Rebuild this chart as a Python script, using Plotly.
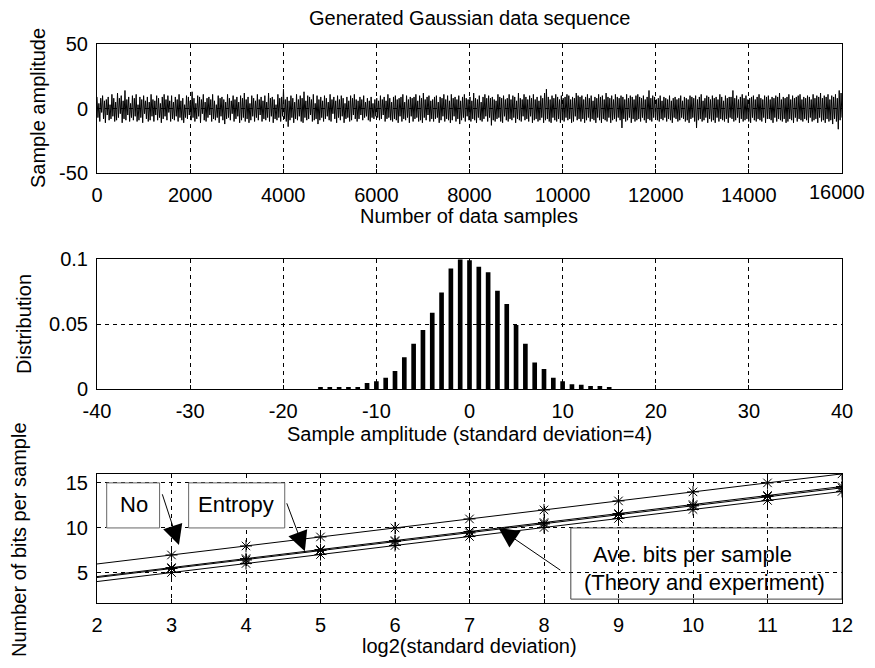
import plotly.graph_objects as go

# ---------------- data ----------------
sample_amplitude = [
    9, -7, 4, -10, 8, -3, 10, -8, 6, -11, 7, -5, 9, -9, 3, -8, 11, -6, 8, -10,
    5, -9, 12, -7, 8, -4, 10, -11, 6, -8, 14, -9, 7, -5, 9, -10, 4, -7, 10, -9,
    8, -6, 11, -10, 3, -9, 9, -7, 7, -11, 10, -4, 6, -8, 9, -10, 5, -9, 11, -6,
    7, -10, 6, -5, 10, -9, 8, -7, 4, -11, 9, -8, 11, -6, 7, -9, 10, -3, 6, -10,
    10, -8, 5, -9, 9, -6, 7, -10, 11, -7, 6, -9, 8, -11, 3, -7, 10, -8, 9, -5,
    6, -9, 13, -7, 8, -10, 4, -8, 10, -6, 9, -11, 7, -4, 11, -9, 5, -10, 8, -7,
    9, -5, 7, -10, 11, -8, 6, -9, 3, -7, 10, -11, 8, -6, 9, -9, 7, -12, 5, -8,
    11, -7, 8, -9, 6, -4, 10, -10, 7, -8, 9, -6, 5, -11, 10, -9, 8, -7, 12, -10,
    7, -8, 9, -11, 4, -9, 10, -6, 8, -10, 6, -7, 11, -9, 7, -5, 9, -10, 6, -8,
    10, -9, 5, -7, 12, -10, 8, -6, 9, -11, 7, -8, 3, -9, 11, -7, 8, -10, 9, -6,
    15, -8, 7, -10, 9, -14, 6, -9, 10, -7, 8, -11, 5, -8, 11, -9, 7, -6, 10, -10,
    8, -11, 13, -7, 6, -9, 10, -8, 9, -5, 7, -10, 11, -9, 4, -8, 10, -12, 7, -9,
    9, -7, 6, -10, 10, -8, 8, -6, 5, -9, 11, -10, 7, -4, 9, -8, 6, -11, 10, -7,
    7, -9, 10, -6, 8, -11, 4, -8, 9, -7, 6, -10, 10, -9, 8, -5, 11, -8, 7, -10,
    6, -8, 9, -5, 7, -9, 10, -7, 5, -6, 8, -9, 6, -10, 9, -7, 4, -8, 7, -6,
    8, -7, 6, -9, 10, -8, 7, -5, 9, -10, 6, -8, 11, -7, 8, -9, 5, -10, 9, -8,
    10, -9, 7, -11, 8, -6, 9, -10, 11, -8, 5, -9, 10, -7, 7, -11, 9, -6, 8, -10,
    9, -8, 11, -7, 6, -10, 10, -9, 8, -11, 12, -7, 7, -9, 9, -5, 10, -10, 6, -8,
    7, -10, 9, -8, 10, -7, 5, -11, 9, -9, 8, -6, 11, -10, 7, -8, 10, -9, 6, -11,
    11, -9, 8, -6, 9, -10, 7, -8, 10, -12, 6, -9, 9, -7, 11, -10, 8, -6, 7, -9,
    9, -10, 6, -8, 12, -9, 8, -11, 7, -7, 10, -9, 5, -10, 9, -8, 11, -6, 8, -10,
    10, -7, 8, -13, 9, -9, 7, -10, 6, -8, 11, -7, 9, -10, 8, -11, 10, -6, 7, -9,
    8, -10, 11, -8, 7, -9, 10, -7, 9, -11, 6, -8, 12, -9, 8, -10, 7, -6, 11, -9,
    9, -8, 7, -10, 10, -6, 8, -11, 11, -9, 7, -8, 9, -10, 6, -9, 10, -7, 8, -11,
    12, -9, 15, -8, 9, -10, 7, -11, 10, -7, 8, -9, 11, -10, 9, -8, 7, -11, 10, -9,
    8, -10, 9, -7, 11, -9, 10, -8, 7, -11, 9, -10, 8, -6, 12, -9, 10, -8, 9, -10,
    10, -8, 7, -11, 9, -9, 11, -7, 8, -10, 10, -8, 6, -9, 9, -11, 8, -7, 11, -9,
    9, -11, 10, -8, 7, -9, 12, -10, 9, -7, 8, -11, 10, -9, 7, -8, 11, -10, 9, -7,
    8, -9, 10, -15, 9, -8, 7, -10, 11, -9, 8, -7, 10, -11, 9, -8, 7, -10, 10, -9,
    11, -8, 9, -10, 8, -7, 10, -9, 7, -11, 9, -8, 14, -9, 8, -10, 10, -7, 9, -8,
    7, -9, 8, -10, 10, -8, 6, -9, 9, -7, 8, -10, 7, -8, 10, -9, 6, -11, 8, -7,
    9, -8, 7, -10, 8, -9, 10, -7, 6, -8, 9, -10, 8, -9, 7, -11, 10, -8, 9, -7,
    8, -10, 10, -15, 7, -9, 9, -8, 11, -10, 6, -9, 8, -7, 10, -11, 9, -8, 7, -10,
    10, -9, 8, -11, 9, -7, 7, -10, 11, -8, 9, -9, 6, -10, 10, -8, 8, -11, 9, -7,
    9, -8, 14, -10, 8, -9, 10, -7, 7, -11, 9, -8, 11, -10, 8, -9, 10, -8, 7, -10,
    8, -11, 9, -7, 10, -9, 7, -10, 9, -8, 11, -9, 8, -10, 7, -7, 10, -11, 9, -8,
    10, -8, 7, -9, 9, -11, 8, -7, 10, -10, 9, -8, 12, -9, 7, -10, 9, -8, 8, -11,
    9, -10, 11, -8, 7, -9, 10, -11, 8, -7, 9, -10, 10, -8, 11, -9, 7, -10, 9, -8,
    8, -9, 10, -11, 9, -7, 7, -10, 11, -9, 8, -8, 10, -11, 9, -7, 12, -10, 8, -9,
    10, -11, 9, -8, 11, -10, 7, -9, 10, -12, 9, -8, 11, -10, 8, -16, 14, -9, 12, -7,
]
total_samples = 16000

amplitude_bins = list(range(-16, 16))
distribution = [
    0.0015, 0.0015, 0.0015, 0.0015, 0.0015, 0.0045, 0.006, 0.0087, 0.0138, 0.0244,
    0.0349, 0.0454, 0.0587, 0.0744, 0.0928, 0.1, 0.0992, 0.0941, 0.09, 0.0756,
    0.0654, 0.0492, 0.0349, 0.0203, 0.0154, 0.0087, 0.006, 0.0036, 0.0033, 0.0022,
    0.0022, 0.0015,
]

log2_std = [2, 3, 4, 5, 6, 7, 8, 9, 10, 11, 12]
bits_no_compression = [6, 7, 8, 9, 10, 11, 12, 13, 14, 15, 16]
bits_ave_theory = [4.6, 5.6, 6.6, 7.6, 8.6, 9.6, 10.6, 11.6, 12.6, 13.6, 14.6]
bits_ave_experiment = [4.5, 5.5, 6.45, 7.5, 8.5, 9.45, 10.45, 11.5, 12.45, 13.5, 14.45]
bits_entropy = [4.05, 5.05, 6.05, 7.05, 8.05, 9.05, 10.05, 11.05, 12.05, 13.05, 14.05]

x_ticks_top = [0, 2000, 4000, 6000, 8000, 10000, 12000, 14000, 16000]
x_ticks_mid = [-40, -30, -20, -10, 0, 10, 20, 30, 40]
y_ticks_top = [-50, 0, 50]
y_ticks_mid = [0, 0.05, 0.1]
y_ticks_bot = [5, 10, 15]

# ---------------- figure ----------------
FONT = "Liberation Sans, Arial, sans-serif"
FS = 20

fig = go.Figure()

step = total_samples / (len(sample_amplitude) - 1)
x_samples = [i * step for i in range(len(sample_amplitude))]
fig.add_trace(go.Scatter(x=x_samples, y=sample_amplitude, mode="lines",
                         line=dict(color="black", width=1),
                         xaxis="x", yaxis="y", showlegend=False, hoverinfo="skip"))

fig.add_trace(go.Bar(x=amplitude_bins, y=distribution, width=0.5,
                     marker=dict(color="black", line=dict(width=0)),
                     xaxis="x2", yaxis="y2", showlegend=False))

series = [bits_no_compression, bits_ave_theory, bits_ave_experiment, bits_entropy]
for s in series:
    fig.add_trace(go.Scatter(x=log2_std, y=s, mode="lines",
                             line=dict(color="black", width=1),
                             xaxis="x3", yaxis="y3", showlegend=False))
    fig.add_trace(go.Scatter(x=log2_std[1:], y=s[1:], mode="markers",
                             marker=dict(symbol="asterisk-open", size=10, color="black",
                                         line=dict(color="black", width=1)),
                             xaxis="x3", yaxis="y3", showlegend=False))

axis_common = dict(showline=True, linecolor="black", linewidth=1, mirror=True,
                   ticks="inside", ticklen=4, tickcolor="black",
                   showgrid=True, gridcolor="black", gridwidth=1, griddash="4px,4px",
                   zeroline=False, ticklabelstandoff=4, automargin=False,
                   ticklabeloverflow="allow",
                   tickfont=dict(family=FONT, size=FS, color="black"))

def labels(vals):
    return [("%g" % v) for v in vals]

# the last top-axis label is written separately so it stays inside the window
top_labels = labels(x_ticks_top)
last_top_label = top_labels[-1]
top_labels[-1] = ""

# page body has an 8px margin: figure sits at (8, 8)
fig.update_layout(
    width=867, height=652,
    margin=dict(l=89, r=33, t=36, b=57),
    paper_bgcolor="white", plot_bgcolor="white",
    font=dict(family=FONT, size=FS, color="black"),
    showlegend=False,
    xaxis=dict(axis_common, domain=[0, 1], range=[0, 16000], tickvals=x_ticks_top,
               ticktext=top_labels, anchor="y"),
    yaxis=dict(axis_common, domain=[0.769, 1.0], range=[-50, 50], tickvals=y_ticks_top,
               ticktext=labels(y_ticks_top), anchor="x"),
    xaxis2=dict(axis_common, domain=[0, 1], range=[-40, 40], tickvals=x_ticks_mid,
                ticktext=labels(x_ticks_mid), anchor="y2"),
    yaxis2=dict(axis_common, domain=[0.383, 0.615], range=[0, 0.1],
                tickvals=y_ticks_mid, ticktext=labels(y_ticks_mid), anchor="x2"),
    xaxis3=dict(axis_common, domain=[0, 1], range=[2, 12], tickvals=log2_std,
                ticktext=labels(log2_std), anchor="y3"),
    yaxis3=dict(axis_common, domain=[0, 0.231], range=[1.67, 16], tickvals=y_ticks_bot,
                ticktext=labels(y_ticks_bot), anchor="x3"),
)

def paper_text(text, x_px, y_px, angle=0, size=FS):
    fig.add_annotation(text=text, xref="paper", yref="paper",
                       x=(x_px - 97) / 745, y=(603 - y_px) / 559,
                       xanchor="center", yanchor="middle", showarrow=False,
                       textangle=angle, font=dict(family=FONT, size=size, color="black"))

paper_text("Generated Gaussian data sequence", 469, 18)
paper_text("Number of data samples", 469, 216)
paper_text("Sample amplitude (standard deviation=4)", 469, 434)
paper_text("log2(standard deviation)", 469, 646)
paper_text("Sample amplitude", 38, 108, -90)
paper_text("Distribution", 24, 324, -90)
paper_text("Number of bits per sample", 19, 540, -90)

fig.add_annotation(text=last_top_label, xref="x", yref="paper", x=x_ticks_top[-1],
                   y=(603 - 192) / 559, xanchor="center", yanchor="middle",
                   xshift=-5, showarrow=False,
                   font=dict(family=FONT, size=FS, color="black"))

# boxes in the lower panel
fig.add_shape(type="rect", xref="x3", yref="y3", x0=2.13, x1=2.84, y0=10, y1=15,
              line=dict(color="#666", width=1), fillcolor="white", layer="between")
fig.add_shape(type="rect", xref="x3", yref="y3", x0=3.23, x1=4.52, y0=10, y1=15,
              line=dict(color="#666", width=1), fillcolor="white", layer="between")
fig.add_shape(type="rect", xref="x3", yref="y3", x0=8.36, x1=12, y0=2.1, y1=10,
              line=dict(color="#444", width=1), fillcolor="rgba(0,0,0,0)", layer="above")

def data_text(text, x, y, xanchor="center", size=22):
    fig.add_annotation(text=text, xref="x3", yref="y3", x=x, y=y, xanchor=xanchor,
                       yanchor="middle", showarrow=False,
                       font=dict(family=FONT, size=size, color="black"))

data_text("No", 2.49, 12.6)
data_text("Entropy", 3.87, 12.6)
data_text("Ave. bits per sample", 8.63, 7.1, "left")
data_text("(Theory and experiment)", 8.51, 3.9, "left")

def arrow(x_head, y_head, x_tail, y_tail):
    fig.add_annotation(text="", xref="x3", yref="y3", axref="x3", ayref="y3",
                       x=x_head, y=y_head, ax=x_tail, ay=y_tail, showarrow=True,
                       arrowhead=2, arrowsize=4, arrowwidth=1, arrowcolor="black")

arrow(3.1, 8.1, 2.87, 13.9)
arrow(4.79, 7.4, 4.54, 12.9)
arrow(7.39, 10.0, 8.24, 5.2)

fig.write_html("out.html")
